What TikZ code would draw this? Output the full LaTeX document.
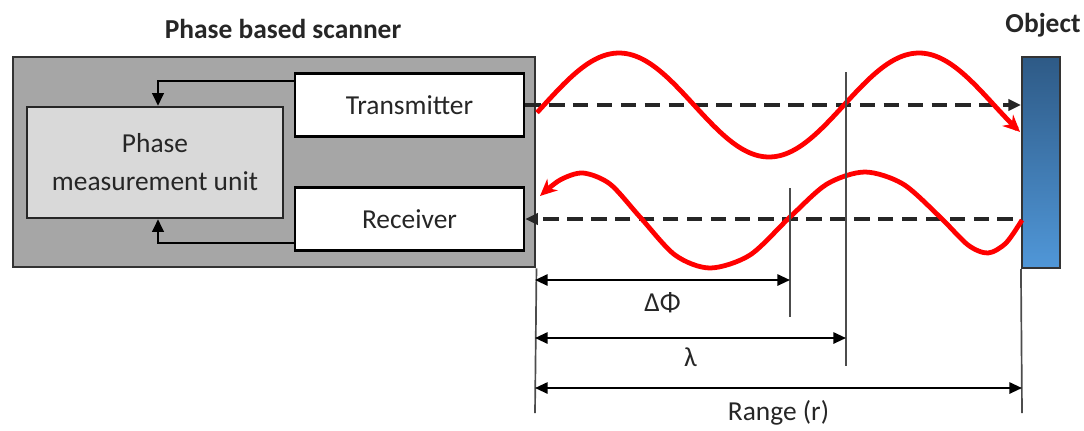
\documentclass[tikz,border=0pt]{standalone}
\usepackage{fontspec}
\setmainfont{Carlito}
\usetikzlibrary{arrows.meta}

\definecolor{casegray}{HTML}{A6A6A6}
\definecolor{unitgray}{HTML}{D9D9D9}
\definecolor{inkgray}{HTML}{262626}
\definecolor{objtop}{HTML}{2E5A86}
\definecolor{objbottom}{HTML}{5097D8}

\begin{document}
\begin{tikzpicture}[x=0.025cm, y=-0.025cm, >={Triangle[length=9pt,width=8pt]},
        font=\fontsize{19.5}{27}\selectfont, text=inkgray,
        box/.style={rectangle, draw=black, line width=1.6pt, fill=white, minimum width=5.725cm, minimum height=1.575cm, align=center},
        arrow/.style={->, line width=2pt},
        beam/.style={->, line width=2.5pt, draw=black!85, dash pattern=on 11pt off 6pt},
        wave/.style={-{Stealth[length=12pt,width=11pt]}, red, line width=3.4pt},
        dim/.style={<->, line width=1.5pt},
        guide/.style={line width=1.2pt, draw=black!70}
    ]
        \useasboundingbox (0,0) rectangle (1084,430);

        % Scanner housing
        \node (scanner) [rectangle, draw=black!80, line width=2pt, fill=casegray, minimum width=13.05cm, minimum height=5.25cm] at (274,162) {};
        \node (title) [font=\fontsize{19.5}{27}\selectfont\bfseries] at (283,29) {Phase based scanner};

        % Units inside
        \node (pmu) [box, fill=unitgray, draw=inkgray, minimum width=6.4cm, minimum height=2.775cm] at (155,162.5) {Phase\\measurement unit};
        \node (tx) [box] at (409.5,105) {Transmitter};
        \node (rx) [box] at (409.5,219) {Receiver};

        % Object
        \node (obj) [rectangle, draw=black!80, line width=1.5pt, top color=objtop, bottom color=objbottom, minimum width=0.95cm, minimum height=5.275cm] at (1041,162.5) {};
        \node (objlbl) [font=\fontsize{19.5}{27}\selectfont\bfseries] at (1043,25) {Object};

        % Feedback to phase unit
        \draw[arrow] (tx.west |- 0,81) -| (pmu.north -| 158,0);
        \draw[arrow] (rx.west |- 0,243) -| (pmu.south -| 158,0);

        % Beams
        \draw[beam] (tx.east) -- (tx.east -| obj.west);
        \draw[beam] ([xshift=-0.2cm]rx.east -| obj.west) -- (rx.east);

        % Emitted and returned waves
        \draw[wave] plot[domain=537:1020, samples=90, smooth] (\x, {105-52*sin(1.2*(\x-544))});
        \draw[wave] plot[smooth] coordinates {(1022,220) (1006,243) (988,253) (968,245) (940,217) (903,184) (865,172) (827,184) (790,217) (750,255) (710,268) (675,255) (640,217) (610,184) (583,173) (560,180) (540,196)};

        % Guide lines
        \coordinate (dphitop) at (790,188);
        \coordinate (dphibot) at (790,317);
        \coordinate (lamtop) at (846,72);
        \coordinate (lambot) at (846,366);
        \coordinate (startbot) at (535,413);
        \coordinate (objbot) at (1022,413);
        \draw[guide] (scanner.south east) -- (startbot);
        \draw[guide] (obj.south west) -- (objbot);
        \draw[guide] (dphitop) -- (dphibot);
        \draw[guide] (lamtop) -- (lambot);

        % Distances
        \draw[dim] (startbot |- 0,280) -- (dphibot |- 0,280) node[midway, below=5pt] {ΔΦ};
        \draw[dim] (startbot |- 0,338) -- (lambot |- 0,338) node[midway, below=3pt] {λ};
        \draw[dim] (startbot |- 0,388) -- (objbot |- 0,388) node[midway, below=5pt] {Range (r)};

    \end{tikzpicture}
\end{document}
